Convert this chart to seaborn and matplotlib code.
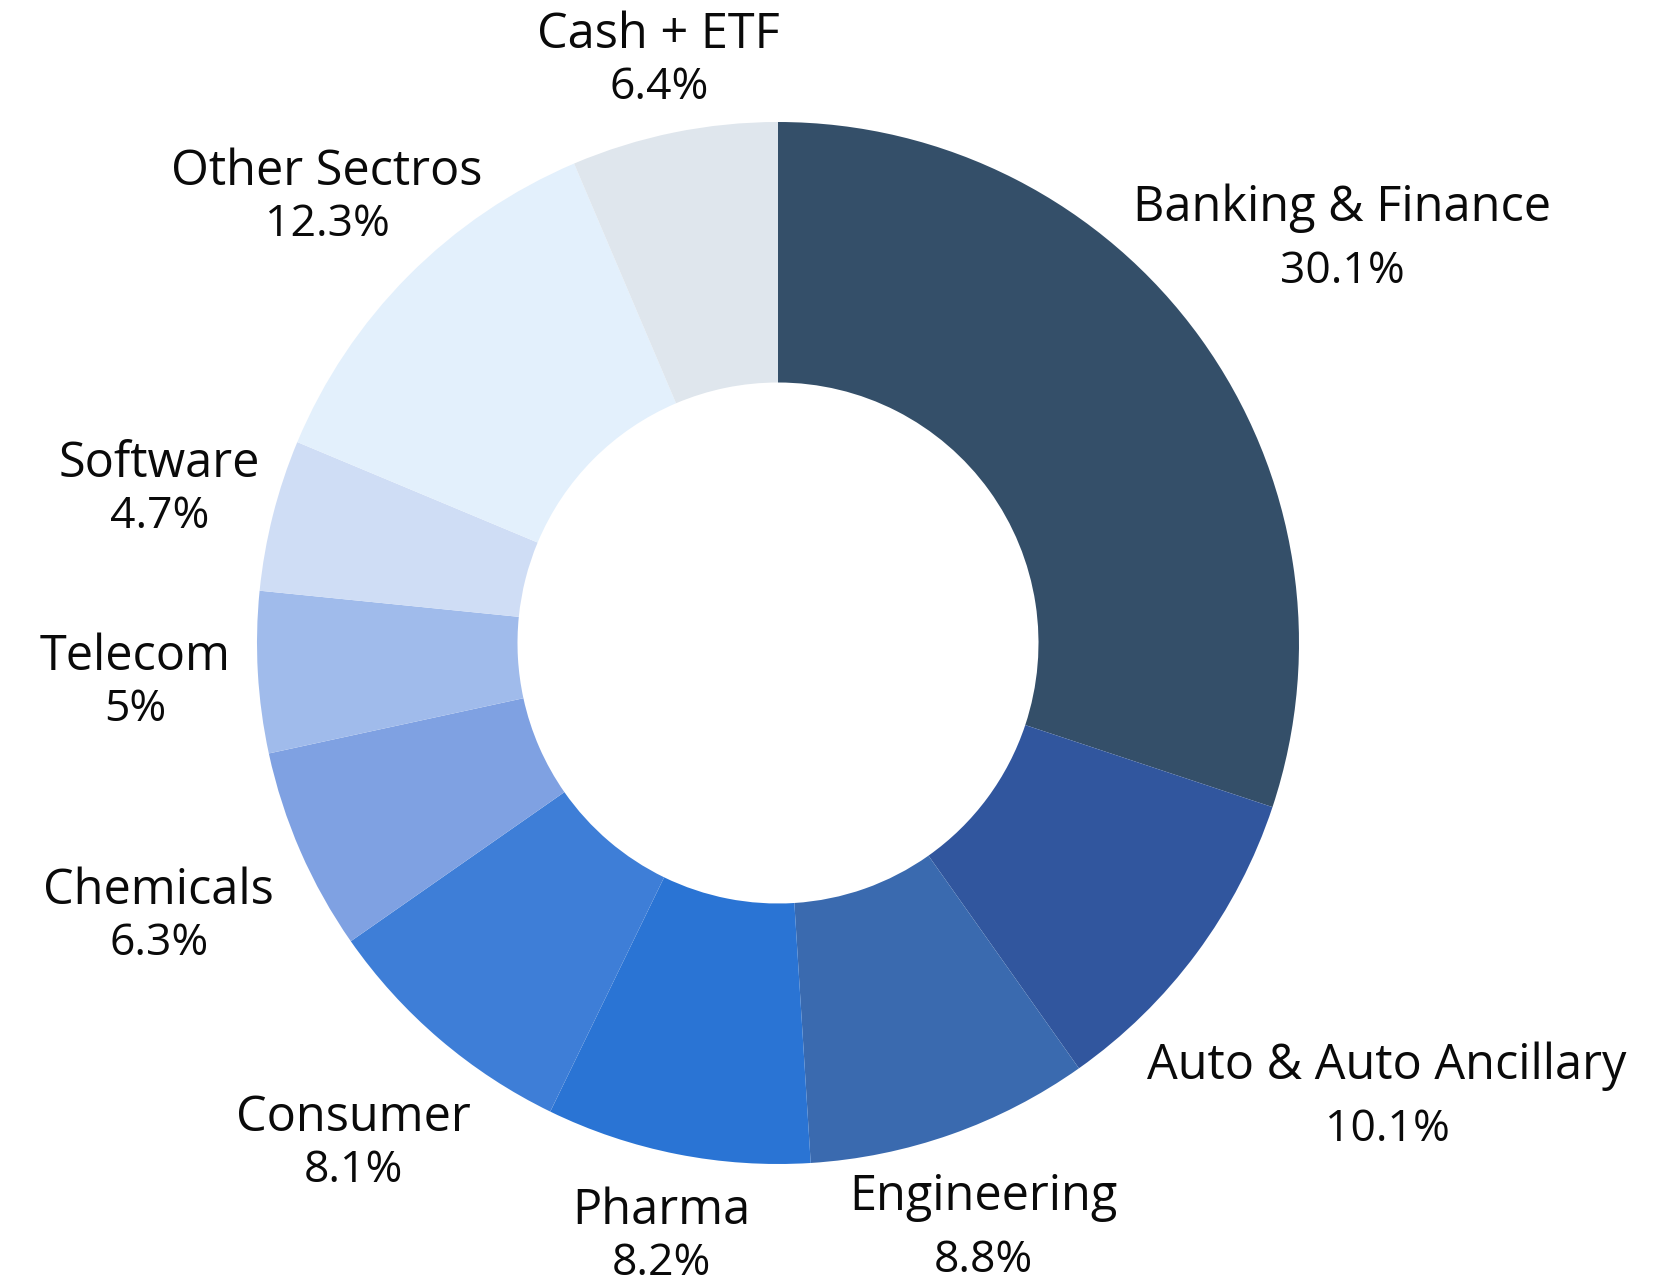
import numpy as np
import matplotlib
matplotlib.use("Agg")
import matplotlib.pyplot as plt
import seaborn as sns

# ------------------------------------------
# Data
# ------------------------------------------

sectors = [
    "Banking & Finance",
    "Auto & Auto Ancillary",
    "Engineering",
    "Pharma",
    "Consumer",
    "Chemicals",
    "Telecom",
    "Software",
    "Other Sectros",
    "Cash + ETF",
]

weights = [30.1, 10.1, 8.8, 8.2, 8.1, 6.3, 5.0, 4.7, 12.3, 6.4]

pct_labels = ["30.1%", "10.1%", "8.8%", "8.2%", "8.1%", "6.3%", "5%", "4.7%", "12.3%", "6.4%"]

colors = [
    "#344F69", "#31569E", "#3A6AAF", "#2A74D4", "#3E7ED7",
    "#7FA1E2", "#A0BBEB", "#CFDDF5", "#E3F0FC", "#DFE6ED",
]

# distance of each label block from the centre, in units of the outer radius
label_radius = [1.335, 1.455, 1.185, 1.155, 1.255, 1.297, 1.236, 1.225, 1.22, 1.146]

# ------------------------------------------
# Figure
# ------------------------------------------

sns.set_theme(style="white")
plt.rcParams['font.family'] = ['Open Sans', 'DejaVu Sans']

W, H = 1661, 1288
cx, cy, R = 778, 643, 521   # pixel centre / radius

fig = plt.figure(figsize=(W / 100, H / 100), dpi=100)
ax = fig.add_axes([0, 0, 1, 1])

ax.pie(
    weights,
    colors=colors,
    startangle=90,
    counterclock=False,
    radius=1.0,
    wedgeprops=dict(width=0.5, linewidth=0),
)

ax.set_xlim(-cx / R, (W - cx) / R)
ax.set_ylim(-(H - cy) / R, cy / R)
ax.set_aspect("equal")
ax.axis("off")

# ------------------------------------------
# Labels
# ------------------------------------------

cum = np.cumsum(weights)
total = cum[-1]
px = 72 / 100  # points per pixel

for i, name in enumerate(sectors):
    mid = cum[i] - weights[i] / 2
    ang = np.deg2rad(90 - mid / total * 360)
    x = label_radius[i] * np.cos(ang)
    y = label_radius[i] * np.sin(ang)

    gap = 64 if x > 0.3 else 53

    ax.annotate(
        name, xy=(x, y), xytext=(0, (gap / 2 - 17) * px),
        textcoords="offset points", ha="center", va="baseline",
        fontsize=35, color="#0A0A0A",
    )
    ax.annotate(
        pct_labels[i], xy=(x, y), xytext=(0, (-gap / 2 - 15) * px),
        textcoords="offset points", ha="center", va="baseline",
        fontsize=32, color="#0A0A0A",
    )

fig.savefig("out.png", dpi=100, facecolor="white")
